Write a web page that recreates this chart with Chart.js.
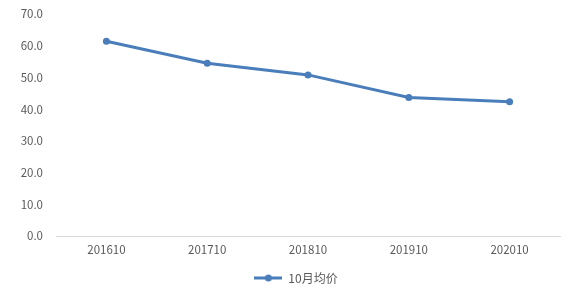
<!DOCTYPE html>
<html>
<head>
<meta charset="utf-8">
<script src="https://cdn.jsdelivr.net/npm/chart.js@4"></script>
<style>
  body { margin: 0; background: #fff; }
  canvas { display: block; }
</style>
</head>
<body>
<canvas id="chart" width="573" height="292"></canvas>
<script>
// data
const months = ['201610', '201710', '201810', '201910', '202010']
const avgPrice = [61.4, 54.5, 50.8, 43.7, 42.3]
const seriesName = '10月均价'
const yTicks = [0, 10, 20, 30, 40, 50, 60, 70]

const lineColor = '#4a7ebb'
const textColor = '#595959'
const fontFamily = '"Noto Sans CJK SC", "Noto Sans", sans-serif'

// legend marker: line with dot
const marker = document.createElement('canvas')
marker.width = 28
marker.height = 8
let mctx = marker.getContext('2d')
mctx.strokeStyle = lineColor
mctx.lineWidth = 3
mctx.beginPath()
mctx.moveTo(0, 4)
mctx.lineTo(28, 4)
mctx.stroke()
mctx.fillStyle = lineColor
mctx.beginPath()
mctx.arc(14, 4, 3.5, 0, Math.PI * 2)
mctx.fill()

// push the legend a bit right and down, like the original
const legendShift = {
  id: 'legendShift',
  afterLayout: function (chart) {
    chart.legend.left += 16
    chart.legend.right += 16
    chart.legend.top += 2
    chart.legend.bottom += 2
  }
}

const ctx = document.getElementById('chart').getContext('2d')

new Chart(ctx, {
  type: 'line',
  data: {
    labels: months,
    datasets: [{
      label: seriesName,
      data: avgPrice,
      borderColor: lineColor,
      backgroundColor: lineColor,
      borderWidth: 3,
      pointStyle: 'circle',
      pointRadius: 3.5,
      pointBorderWidth: 0,
      pointHoverRadius: 3.5,
      tension: 0
    }]
  },
  options: {
    responsive: false,
    animation: false,
    layout: {
      padding: { top: 14, right: 13, bottom: 0, left: 0 }
    },
    plugins: {
      tooltip: { enabled: false },
      legend: {
        position: 'bottom',
        labels: {
          usePointStyle: true,
          pointStyleWidth: 28,
          padding: 6,
          color: textColor,
          font: { family: fontFamily, size: 12 },
          generateLabels: function (chart) {
            return chart.data.datasets.map(function (ds, i) {
              return {
                text: ds.label,
                pointStyle: marker,
                fontColor: textColor,
                strokeStyle: lineColor,
                fillStyle: lineColor,
                lineWidth: 0,
                datasetIndex: i
              }
            })
          }
        }
      }
    },
    scales: {
      x: {
        offset: true,
        grid: { display: false, drawTicks: false },
        border: { display: true, color: '#d9d9d9', width: 1 },
        ticks: {
          color: textColor,
          padding: 7,
          font: { family: fontFamily, size: 11.5 }
        },
        afterFit: function (scale) { scale.height = 28 }
      },
      y: {
        min: 0,
        max: 70,
        grid: { display: false, drawTicks: false },
        border: { display: false },
        ticks: {
          color: textColor,
          padding: 13,
          stepSize: 10,
          font: { family: fontFamily, size: 11.5 },
          callback: function (v) { return yTicks.includes(v) ? v.toFixed(1) : '' }
        },
        afterFit: function (scale) {
          scale.width = 56
          scale.paddingTop = 0
          scale.paddingBottom = 0
        }
      }
    }
  },
  plugins: [legendShift]
})
</script>
</body>
</html>
